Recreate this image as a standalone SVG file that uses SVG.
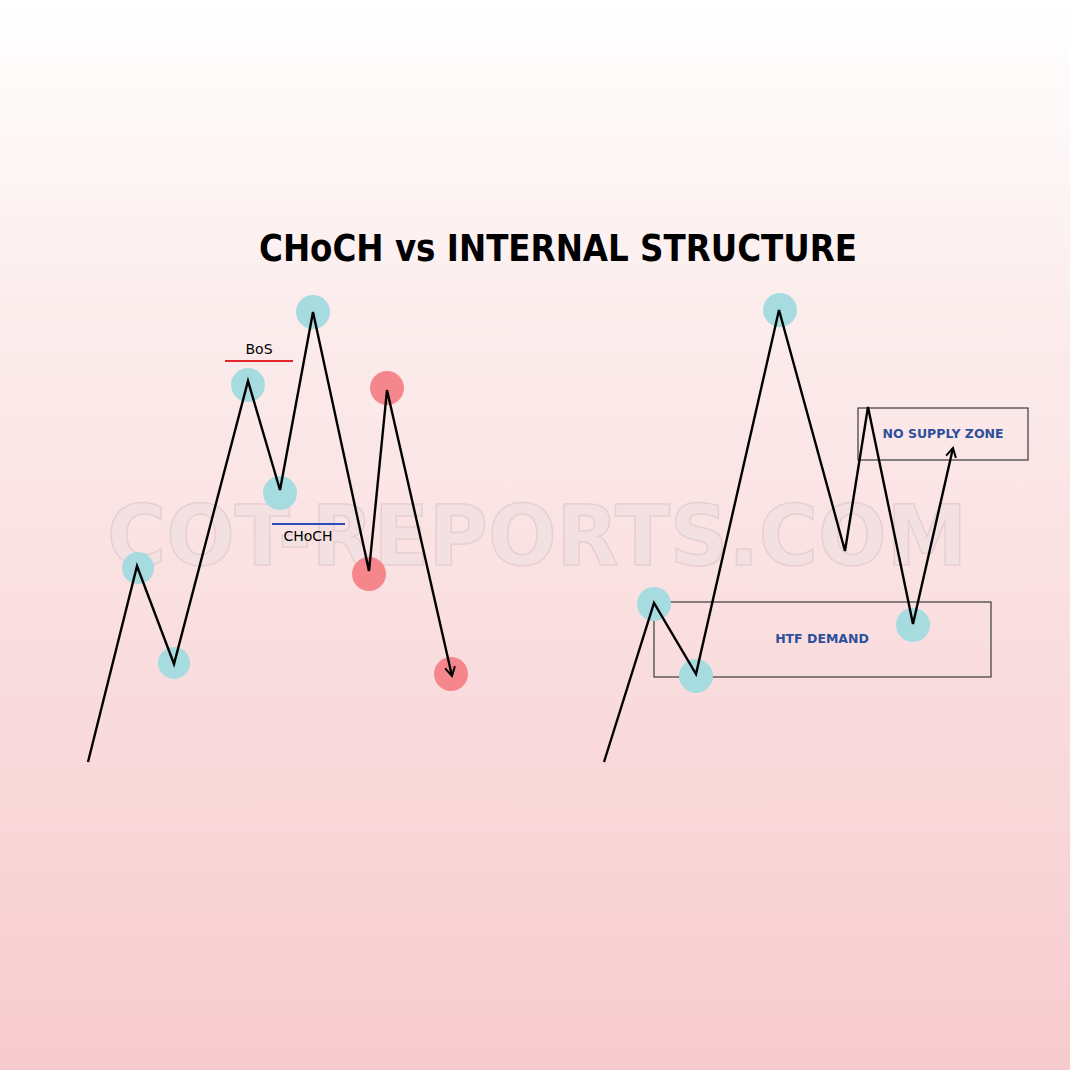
<svg xmlns="http://www.w3.org/2000/svg" width="1070" height="1070" viewBox="0 0 1070 1070">
<defs>
<linearGradient id="bg" x1="0" y1="0" x2="0" y2="1">
<stop offset="0" stop-color="#ffffff"/>
<stop offset="0.3" stop-color="#fcecec"/>
<stop offset="1" stop-color="#f7cbce"/>
</linearGradient>
<marker id="arr" viewBox="0 0 12 12" refX="10" refY="6" markerWidth="12" markerHeight="12" markerUnits="userSpaceOnUse" orient="auto">
<path d="M1,1 L10,6 L1,11" fill="none" stroke="#000" stroke-width="2"/>
</marker>
<style>
.teal{fill:#a6dbe0}
.red{fill:#f5868b}
.line{fill:none;stroke:#000;stroke-width:2.4;stroke-linejoin:miter}
.zone{fill:none;stroke:#3a3a3a;stroke-width:1.2}
.lbl{font-family:"DejaVu Sans",sans-serif;font-size:14px;text-anchor:middle}
.zlbl{font-family:"DejaVu Sans",sans-serif;font-size:12.5px;font-weight:bold;fill:#2d4f9c;text-anchor:middle}
</style>
</defs>
<rect width="1070" height="1070" fill="url(#bg)"/>
<text x="537" y="565" font-family="'DejaVu Sans',sans-serif" font-weight="bold" font-size="84" textLength="860" lengthAdjust="spacingAndGlyphs" text-anchor="middle" fill="#f3e0e2" stroke="#e6cfd1" stroke-width="1.5">COT-REPORTS.COM</text>
<text x="558" y="261" font-family="'DejaVu Sans',sans-serif" font-weight="bold" font-size="37" textLength="598" lengthAdjust="spacingAndGlyphs" text-anchor="middle" fill="#000">CHoCH vs INTERNAL STRUCTURE</text>
<g id="zone-htf"><rect class="zone" x="654" y="602" width="337" height="75"/><text class="zlbl" x="822" y="643">HTF DEMAND</text></g>
<g id="zone-supply"><rect class="zone" x="858" y="408" width="170" height="52"/><text class="zlbl" x="943" y="438">NO SUPPLY ZONE</text></g>
<g id="left-points">
<circle class="teal" cx="138" cy="568" r="16"/>
<circle class="teal" cx="174" cy="663" r="16"/>
<circle class="teal" cx="248" cy="385" r="17"/>
<circle class="teal" cx="280" cy="493" r="17"/>
<circle class="teal" cx="313" cy="312" r="17"/>
<circle class="red" cx="369" cy="574" r="17"/>
<circle class="red" cx="387" cy="388" r="17"/>
<circle class="red" cx="451" cy="674" r="17"/>
</g>
<g id="right-points">
<circle class="teal" cx="654" cy="604" r="17"/>
<circle class="teal" cx="696" cy="676" r="17"/>
<circle class="teal" cx="780" cy="310" r="17"/>
<circle class="teal" cx="913" cy="625" r="17"/>
</g>
<g id="bos"><line x1="225" y1="361" x2="293" y2="361" stroke="#e0282e" stroke-width="2"/><text class="lbl" x="259" y="354" fill="#000">BoS</text></g>
<g id="choch"><line x1="272" y1="524" x2="345" y2="524" stroke="#2a4fb8" stroke-width="2"/><text class="lbl" x="308" y="541" fill="#000">CHoCH</text></g>
<g id="connectors">
<polyline class="line" points="88,762 137,566 174,664 248,381 280,490 313,312 369,571 387,390 452,676" marker-end="url(#arr)"/>
<polyline class="line" points="604,762 654,603 696,674 779,310 845,551 868,407 913,624 953,448" marker-end="url(#arr)"/>
</g>
</svg>
